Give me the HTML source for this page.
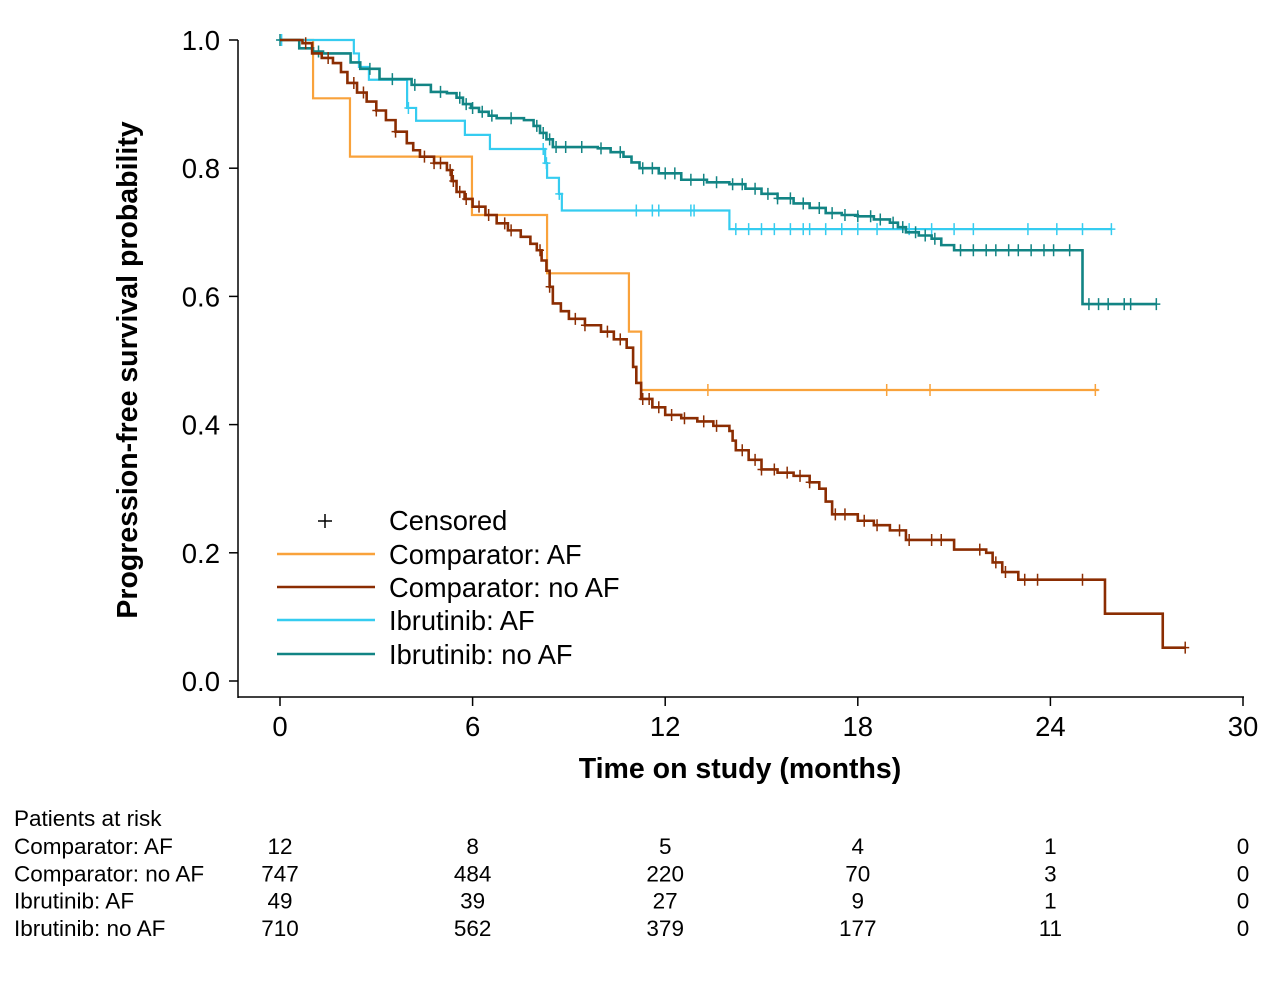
<!DOCTYPE html>
<html><head><meta charset="utf-8">
<style>
html,body{margin:0;padding:0;background:#fff;}
body{width:1280px;height:977px;overflow:hidden;font-family:"Liberation Sans",Arial,sans-serif;}
svg text{font-family:"Liberation Sans",Arial,sans-serif;fill:#000;}
</style></head>
<body>
<svg id="chart" width="1280" height="977" xmlns="http://www.w3.org/2000/svg">
<g id="axes"></g>
<g id="curves"></g>
<g id="legend"></g>
<g id="risk"></g>
</svg>
<script>
const xTicks=[0,6,12,18,24,30];
const yTicks=[0,0.2,0.4,0.6,0.8,1.0];
// Comparator AF
const cafT=[0,1.03,2.18,5.98,8.32,10.87,11.25];
const cafS=[1,0.909,0.818,0.727,0.636,0.545,0.454];
const cafEnd=25.5;
const cafC=[13.33,18.9,20.25,25.4];
// Ibrutinib AF
const iafT=[0,2.3,2.46,2.77,3.96,4.24,5.76,6.54,8.26,8.32,8.69,8.78,14.0];
const iafS=[1,0.979,0.958,0.938,0.894,0.874,0.852,0.830,0.808,0.785,0.76,0.734,0.705];
const iafEnd=25.9;
const iafC=[0.05,4.0,8.2,8.3,8.7,11.1,11.6,11.8,12.8,12.9,14.2,14.6,15.0,15.4,15.9,16.3,16.5,17.0,17.5,18.0,18.6,19.6,20.3,21.0,21.6,23.3,24.2,25.0,25.9];
// Ibrutinib no AF
const inaT=[0,0.6,1.03,1.34,2.2,2.5,3.1,4.1,4.7,5.2,5.5,5.7,5.95,6.2,6.5,6.75,7.6,7.9,8.1,8.3,8.5,9.9,10.3,10.7,10.95,11.2,11.8,12.5,13.3,14.0,14.5,15.0,15.5,16.0,16.5,17.0,17.5,18.0,18.5,19.0,19.25,19.5,19.9,20.3,20.6,21.0,25.0];
const inaS=[1,0.987,0.982,0.979,0.965,0.955,0.939,0.93,0.919,0.917,0.91,0.9,0.894,0.888,0.882,0.878,0.875,0.866,0.855,0.845,0.833,0.831,0.825,0.818,0.809,0.8,0.792,0.782,0.778,0.775,0.768,0.76,0.753,0.745,0.738,0.73,0.727,0.725,0.72,0.715,0.708,0.7,0.695,0.69,0.68,0.672,0.588];
const inaEnd=27.3;
const inaC=[0,1.2,2.8,3.5,4.2,5.0,5.6,5.8,6.0,6.3,6.6,7.2,8.0,8.2,8.4,8.6,8.9,9.4,10.0,10.6,11.3,11.6,12.0,12.3,12.8,13.2,13.6,14.1,14.4,14.8,15.2,15.5,15.9,16.3,16.8,17.2,17.6,18.0,18.4,18.7,19.1,19.4,19.8,20.1,20.4,21.2,21.6,22.0,22.3,22.7,23.0,23.4,23.8,24.1,24.6,25.2,25.5,25.8,26.3,26.5,27.3];
// Comparator no AF
const cnaT=[0,0.7,1.0,1.3,1.65,1.9,2.1,2.4,2.7,3.0,3.3,3.6,3.95,4.15,4.36,4.8,5.2,5.35,5.5,5.75,6.0,6.4,6.75,7.1,7.5,7.8,8.0,8.15,8.3,8.4,8.5,8.75,9.0,9.5,10.0,10.4,10.8,11.0,11.1,11.25,11.6,12.0,12.5,13.0,13.5,14.0,14.1,14.2,14.6,15.0,15.5,16.0,16.5,16.8,17.0,17.2,18.0,18.5,19.0,19.5,21.0,22.0,22.2,22.5,23.0,25.7,27.5];
const cnaS=[1,0.995,0.979,0.972,0.964,0.95,0.933,0.918,0.904,0.89,0.875,0.857,0.839,0.828,0.818,0.808,0.797,0.78,0.763,0.752,0.74,0.727,0.714,0.703,0.693,0.682,0.672,0.656,0.64,0.615,0.589,0.577,0.565,0.555,0.545,0.533,0.52,0.49,0.465,0.44,0.427,0.415,0.41,0.405,0.398,0.39,0.375,0.36,0.345,0.33,0.325,0.32,0.31,0.3,0.28,0.26,0.25,0.243,0.235,0.22,0.205,0.2,0.185,0.17,0.158,0.105,0.052];
const cnaEnd=28.2;
const cnaC=[0.8,1.5,2.3,2.6,3.0,3.6,4.5,4.8,5.0,5.3,5.4,5.6,5.8,6.2,6.5,7.0,7.2,8.1,8.4,9.2,9.5,10.2,10.6,11.3,11.5,11.8,12.2,12.6,13.2,13.6,14.4,14.8,15.0,15.4,15.8,16.2,16.5,17.3,17.6,18.2,18.6,19.3,19.6,20.3,20.6,21.8,22.3,22.6,23.2,23.6,25.0,28.2];
// Risk table
const riskRows=["Comparator: AF","Comparator: no AF","Ibrutinib: AF","Ibrutinib: no AF"];
const riskAF=[12,8,5,4,1,0];
const riskCNA=[747,484,220,70,3,0];
const riskIAF=[49,39,27,9,1,0];
const riskINA=[710,562,379,177,11,0];

const NS="http://www.w3.org/2000/svg";
const X=t=>280+t*(963/30);
const Y=s=>681-s*641;
function mk(tag,attrs,parent){const e=document.createElementNS(NS,tag);for(const k in attrs)e.setAttribute(k,attrs[k]);parent.appendChild(e);return e;}
const axes=document.getElementById('axes');
let yl=mk('line',{x1:238,y1:40,x2:238,y2:698,stroke:'#000','stroke-width':1.5},axes);


let xl=mk('line',{x1:238,y1:697,x2:1244,y2:697,stroke:'#000','stroke-width':1.5},axes);


yTicks.forEach(v=>{
  let t=mk('line',{x1:229,x2:238,y1:Y(v),y2:Y(v),stroke:'#000','stroke-width':1.5},axes);
  
  
  let l=mk('text',{x:220,y:Y(v)+10,'text-anchor':'end','font-size':27.5},axes);l.textContent=v.toFixed(1);
  
  
});
xTicks.forEach(v=>{
  let t=mk('line',{x1:X(v),x2:X(v),y1:697,y2:706,stroke:'#000','stroke-width':1.5},axes);
  
  
  let l=mk('text',{x:X(v),y:736,'text-anchor':'middle','font-size':27.5},axes);l.textContent=v;
  
  
});
let xt=mk('text',{x:740,y:778,'text-anchor':'middle','font-size':28.5,'font-weight':'bold'},axes);xt.textContent='Time on study (months)';


let ytt=mk('text',{x:0,y:0,'text-anchor':'middle','font-size':28.5,'font-weight':'bold',transform:'translate(137,370) rotate(-90)'},axes);ytt.textContent='Progression-free survival probability';



const curves=document.getElementById('curves');
function surv(T,S,t){let s=S[0];for(let i=0;i<T.length;i++){if(T[i]<=t)s=S[i];}return s;}
function drawCurve(T,S,end,C,color,w,name){
  let d='M'+X(T[0])+' '+Y(S[0]);
  for(let i=1;i<T.length;i++){d+=' H'+X(T[i])+' V'+Y(S[i]);}
  d+=' H'+X(end);
  let p=mk('path',{d:d,fill:'none',stroke:color,'stroke-width':w},curves);
  
  
  C.forEach(c=>{
    const x=X(c),y=Y(surv(T,S,c));
    let m=mk('path',{d:`M${x} ${y-6} V${y+6} M${x-4} ${y} H${x+4}`,stroke:color,'stroke-width':1.5,fill:'none'},curves);
    
    
  });
}
drawCurve(cafT,cafS,cafEnd,cafC,'#f9a23b',2.2,'comparator-af');
drawCurve(iafT,iafS,iafEnd,iafC,'#35ccf0',2.2,'ibrutinib-af');
drawCurve(inaT,inaS,inaEnd,inaC,'#128484',2.6,'ibrutinib-no-af');
drawCurve(cnaT,cnaS,cnaEnd,cnaC,'#8b2d02',2.6,'comparator-no-af');

const lg=document.getElementById('legend');
let cm=mk('path',{d:'M325 514 V528 M318 521 H332',stroke:'#000','stroke-width':1.5},lg);


let ct=mk('text',{x:389,y:530,'font-size':27.3},lg);ct.textContent='Censored';


const lgItems=[['Comparator: AF','#f9a23b',554],['Comparator: no AF','#8b2d02',587],['Ibrutinib: AF','#35ccf0',620],['Ibrutinib: no AF','#128484',654]];
lgItems.forEach(it=>{
  let l=mk('line',{x1:277,x2:375,y1:it[2],y2:it[2],stroke:it[1],'stroke-width':2.5},lg);
  
  
  let t=mk('text',{x:389,y:it[2]+10,'font-size':27.3},lg);t.textContent=it[0];
  
  
});

const rk=document.getElementById('risk');
let rh=mk('text',{x:14,y:826,'font-size':22.5},rk);rh.textContent='Patients at risk';


const rdata=[riskAF,riskCNA,riskIAF,riskINA];
riskRows.forEach((r,i)=>{
  const y=854+i*27.3;
  let t=mk('text',{x:14,y:y,'font-size':22.5},rk);t.textContent=r;
  
  
  rdata[i].forEach((v,j)=>{
    let n=mk('text',{x:X(xTicks[j]),y:y,'font-size':22.5,'text-anchor':'middle'},rk);n.textContent=v;
    
    
  });
});
</script>
</body></html>
